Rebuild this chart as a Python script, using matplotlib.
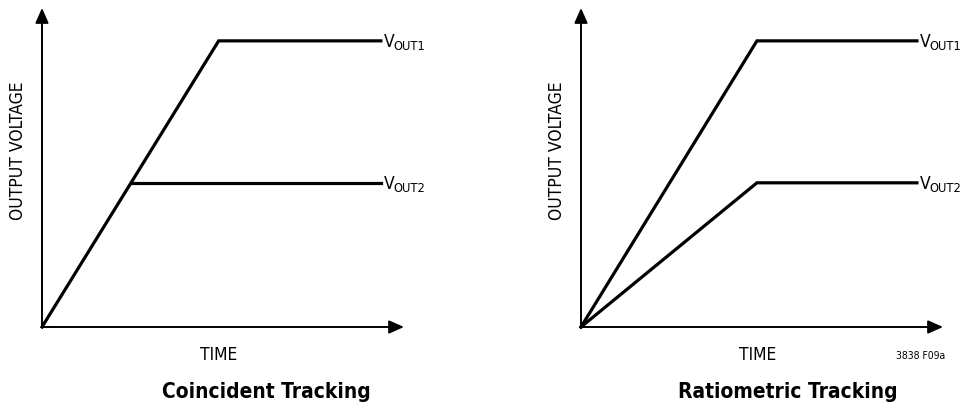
import matplotlib
matplotlib.use("Agg")
import matplotlib.pyplot as plt

plt.rcParams['font.family'] = ['DejaVu Sans']
plt.rcParams['font.stretch'] = 'condensed'

# coincident tracking
coin_t1 = [0, 4.88, 9.36]
coin_v1 = [0, 8.97, 8.97]
coin_t2 = [2.48, 9.36]
coin_v2 = [4.52, 4.52]

# ratiometric tracking
ratio_t1 = [0, 4.86, 9.28]
ratio_v1 = [0, 8.97, 8.97]
ratio_t2 = [0, 4.86, 9.28]
ratio_v2 = [0, 4.52, 4.52]

subs = ['OUT1', 'OUT2']
titles = ['Coincident Tracking', 'Ratiometric Tracking']

W, H = 967, 408
fig = plt.figure(figsize=(W / 100, H / 100), dpi=100)


def vlabel(ax, x, y, sub):
    v = ax.text(x, y, 'V', fontsize=12.5, va='center', ha='left')
    ax.annotate(sub, xy=(1, 0), xycoords=v, xytext=(-0.6, -1.2),
                textcoords='offset points', fontsize=9.2, va='bottom', ha='left')


def panel(x0, t1, v1, t2, v2, title, title_x, note=None):
    # axes box in pixels: left x0, bottom 327, width 362, height 319
    ax = fig.add_axes([x0 / W, (H - 327) / H, 362 / W, 319 / H])
    ax.set_xlim(0, 10)
    ax.set_ylim(0, 10)
    ax.axis('off')
    aprops = dict(arrowstyle='-|>,head_length=0.9,head_width=0.4', color='k',
                  lw=1.4, shrinkA=0, shrinkB=0)
    ax.annotate('', xy=(0, 10), xytext=(0, 0), arrowprops=aprops, annotation_clip=False)
    ax.annotate('', xy=(10, 0), xytext=(0, 0), arrowprops=aprops, annotation_clip=False)
    ax.plot(t1, v1, color='k', lw=2.3, solid_joinstyle='miter', clip_on=False)
    ax.plot(t2, v2, color='k', lw=2.3, solid_joinstyle='miter', clip_on=False)
    vlabel(ax, t1[-1] + 0.08, v1[-1] - 0.05, subs[0])
    vlabel(ax, t2[-1] + 0.08, v2[-1] - 0.05, subs[1])
    ax.text(-0.66, 5.52, 'OUTPUT VOLTAGE', rotation=90, fontsize=12.5,
            ha='center', va='center')
    ax.text(4.87, -0.88, 'TIME', fontsize=12.5, ha='center', va='center')
    ax.text(title_x, -2.04, title, fontsize=15, fontweight='bold', ha='center', va='center')
    if note:
        ax.text(9.39, -0.91, note, fontsize=7.5, ha='center', va='center')


panel(42, coin_t1, coin_v1, coin_t2, coin_v2, titles[0], 6.2)
panel(581, ratio_t1, ratio_v1, ratio_t2, ratio_v2, titles[1], 5.7, note='3838 F09a')

fig.savefig('out.png', dpi=100)
